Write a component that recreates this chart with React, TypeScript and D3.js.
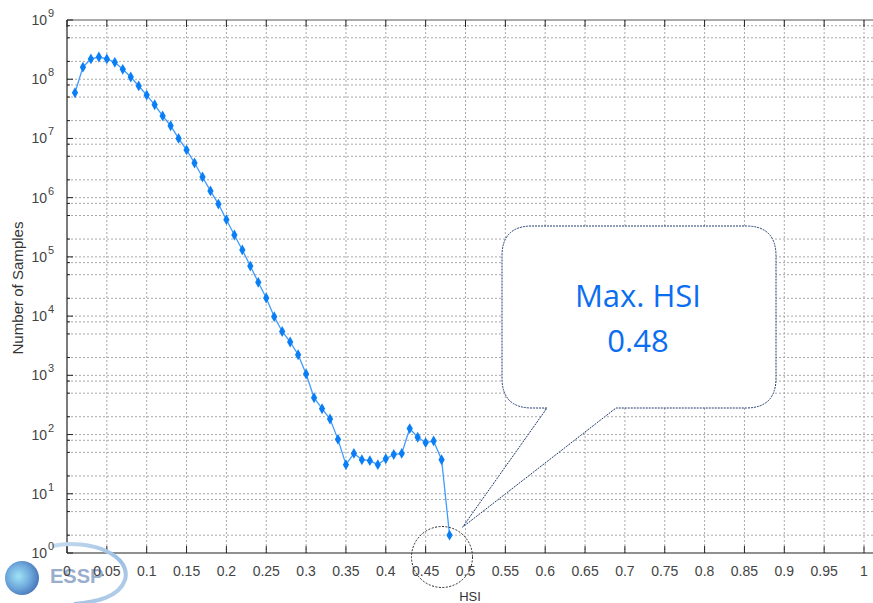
import React from "react";
import * as d3 from "d3";

const hsiValues = [
  0.01, 0.02, 0.03, 0.04, 0.05, 0.06, 0.07, 0.08, 0.09, 0.1,
  0.11, 0.12, 0.13, 0.14, 0.15, 0.16, 0.17, 0.18, 0.19, 0.2,
  0.21, 0.22, 0.23, 0.24, 0.25, 0.26, 0.27, 0.28, 0.29, 0.3,
  0.31, 0.32, 0.33, 0.34, 0.35, 0.36, 0.37, 0.38, 0.39, 0.4,
  0.41, 0.42, 0.43, 0.44, 0.45, 0.46, 0.47, 0.48,
];
const sampleCounts = [
  5.9e7, 1.6e8, 2.2e8, 2.37e8, 2.2e8, 1.93e8, 1.47e8, 1.09e8, 7.7e7, 5.4e7,
  3.7e7, 2.4e7, 1.64e7, 1.0e7, 6.4e6, 3.85e6, 2.23e6, 1.3e6, 7.8e5, 4.25e5,
  2.34e5, 1.31e5, 7.0e4, 3.72e4, 2.02e4, 9.8e3, 5.5e3, 3.66e3, 2.23e3, 1054,
  419, 273, 183, 83, 31, 48, 37.6, 36.2, 31, 39,
  46, 48, 126, 90, 73, 78, 37.6, 2,
];
const xTickValues = [
  0, 0.05, 0.1, 0.15, 0.2, 0.25, 0.3, 0.35, 0.4, 0.45, 0.5,
  0.55, 0.6, 0.65, 0.7, 0.75, 0.8, 0.85, 0.9, 0.95, 1,
];
const xTickLabels = [
  "0", "0.05", "0.1", "0.15", "0.2", "0.25", "0.3", "0.35", "0.4", "0.45", "0.5",
  "0.55", "0.6", "0.65", "0.7", "0.75", "0.8", "0.85", "0.9", "0.95", "1",
];
const yExponents = [0, 1, 2, 3, 4, 5, 6, 7, 8, 9];
const minorMultipliers = [2, 5, 8];
const calloutLines = ["Max. HSI", "0.48"];
const xAxisTitle = "HSI";
const yAxisTitle = "Number of Samples";
const logoText = "ESSP";

const W = 873;
const H = 603;
const left = 67;
const top = 20;
const bottom = 553;
const rightEdge = 880;

export default function App() {
  const x = d3.scaleLinear().domain([0, 1]).range([left, 864]);
  const y = d3.scaleLog().domain([1, 1e9]).range([bottom, top]);

  const gridColor = "#a8a8a8";
  const dash = "2,2";

  const majorY = yExponents.map((e) => Math.pow(10, e));
  const minorY: number[] = [];
  yExponents.slice(0, -1).forEach((e) => {
    minorMultipliers.forEach((m) => minorY.push(m * Math.pow(10, e)));
  });

  const pts = hsiValues.map((h, i) => [x(h), y(sampleCounts[i])] as [number, number]);
  const line = d3.line()(pts) || "";
  const diamond = d3.symbol().type(d3.symbolDiamond).size(34)() || "";

  const lastX = x(hsiValues[hsiValues.length - 1]);
  const lastY = y(sampleCounts[sampleCounts.length - 1]);

  // callout
  const bx0 = 502, bx1 = 776, by0 = 226, by1 = 408, r = 30;
  const tipX = lastX + 13, tipY = lastY - 8;
  const callout = `M${bx0 + r},${by0} H${bx1 - r} Q${bx1},${by0} ${bx1},${by0 + r} V${by1 - r} Q${bx1},${by1} ${bx1 - r},${by1} H616 L${tipX},${tipY} L547,${by1} H${bx0 + r} Q${bx0},${by1} ${bx0},${by1 - r} V${by0 + r} Q${bx0},${by0} ${bx0 + r},${by0} Z`;

  return (
    <svg
      width={W}
      height={H}
      style={{ position: "absolute", left: 0, top: 0, background: "#fff" }}
      fontFamily="'Liberation Sans', Arial, sans-serif"
    >
      <defs>
        <radialGradient id="sphere" cx="0.4" cy="0.45" r="0.7">
          <stop offset="0%" stopColor="#9fe3f5" />
          <stop offset="50%" stopColor="#6fa9dc" />
          <stop offset="100%" stopColor="#3b64ad" />
        </radialGradient>
        <linearGradient id="swoosh" x1="0" y1="0" x2="1" y2="1">
          <stop offset="0%" stopColor="#c7dbee" />
          <stop offset="60%" stopColor="#9cc0e4" />
          <stop offset="100%" stopColor="#bcd3ea" />
        </linearGradient>
        <clipPath id="plotclip">
          <rect x={left} y={top} width={rightEdge - left} height={bottom - top} />
        </clipPath>
      </defs>
      <rect x={0} y={0} width={W} height={H} fill="#fff" />

      {/* grid */}
      <g stroke={gridColor} strokeWidth={1} strokeDasharray={dash}>
        {xTickValues.slice(1).map((v, i) => (
          <line key={"gx" + i} x1={x(v)} x2={x(v)} y1={top} y2={bottom} />
        ))}
        {majorY.slice(1, -1).concat(minorY).map((v, i) => (
          <line key={"gy" + i} x1={left} x2={rightEdge} y1={y(v)} y2={y(v)} />
        ))}
      </g>

      {/* box */}
      <line x1={left} x2={rightEdge} y1={top} y2={top} stroke="#555" strokeWidth={1} />
      <line x1={left} x2={rightEdge} y1={bottom} y2={bottom} stroke="#222" strokeWidth={1.2} />
      <line x1={left} x2={left} y1={top} y2={bottom} stroke="#222" strokeWidth={1.2} />

      {/* ticks */}
      <g stroke="#222" strokeWidth={1}>
        {xTickValues.map((v, i) => (
          <g key={"tx" + i}>
            <line x1={x(v)} x2={x(v)} y1={bottom} y2={bottom - 7} />
            <line x1={x(v)} x2={x(v)} y1={top} y2={top + 7} />
          </g>
        ))}
        {majorY.map((v, i) => (
          <line key={"ty" + i} x1={left} x2={left + 6} y1={y(v)} y2={y(v)} />
        ))}
        {minorY.map((v, i) => (
          <line key={"tym" + i} x1={left} x2={left + 3} y1={y(v)} y2={y(v)} />
        ))}
      </g>

      {/* logo (behind tick labels) */}
      <g>
        <path
          d="M52,546 C92,538 132,556 125,580 C119,597 97,602 74,604"
          fill="none"
          stroke="url(#swoosh)"
          strokeWidth={4}
        />
        <circle cx={22} cy={578} r={17} fill="url(#sphere)" />
        <text x={50} y={583} fontSize={20} fontWeight="bold" fill="#8ea6c8" opacity={0.9}>
          {logoText}
        </text>
      </g>

      {/* x tick labels */}
      <g fontSize={14} fill="#444" textAnchor="middle">
        {xTickValues.map((v, i) => (
          <text key={"xl" + i} x={x(v)} y={576}>
            {xTickLabels[i]}
          </text>
        ))}
      </g>

      {/* y tick labels */}
      <g fill="#444">
        {yExponents.map((e, i) => (
          <text key={"yl" + i} x={47} y={y(majorY[i]) + 5} fontSize={14} textAnchor="end">
            10
          </text>
        ))}
        {yExponents.map((e, i) => (
          <text key={"ye" + i} x={48} y={y(majorY[i]) - 3} fontSize={11} textAnchor="start">
            {String(e)}
          </text>
        ))}
      </g>

      {/* axis titles */}
      <text x={470} y={601} fontSize={13} fill="#333" textAnchor="middle">
        {xAxisTitle}
      </text>
      <text
        transform="translate(23,288) rotate(-90)"
        fontSize={14}
        fill="#333"
        textAnchor="middle"
        textLength={133}
        lengthAdjust="spacingAndGlyphs"
      >
        {yAxisTitle}
      </text>

      {/* data */}
      <g clipPath="url(#plotclip)">
        <path d={line} fill="none" stroke="#3f9bff" strokeWidth={1.3} />
        {pts.map((p, i) => (
          <path key={"m" + i} d={diamond} transform={`translate(${p[0]},${p[1]})`} fill="#0a7ff5" />
        ))}
      </g>

      {/* circle highlight */}
      <circle cx={442} cy={557} r={30.5} fill="none" stroke="#222" strokeWidth={1} strokeDasharray="2,1.5" />

      {/* callout */}
      <path d={callout} fill="#fff" stroke="#1f3b6e" strokeWidth={1} strokeDasharray="2,1" />
      <g fill="#0b6ef0" fontSize={31} textAnchor="middle" fontFamily="'Open Sans', 'Noto Sans', sans-serif">
        <text x={638} y={307}>{calloutLines[0]}</text>
        <text x={638} y={352}>{calloutLines[1]}</text>
      </g>
    </svg>
  );
}
